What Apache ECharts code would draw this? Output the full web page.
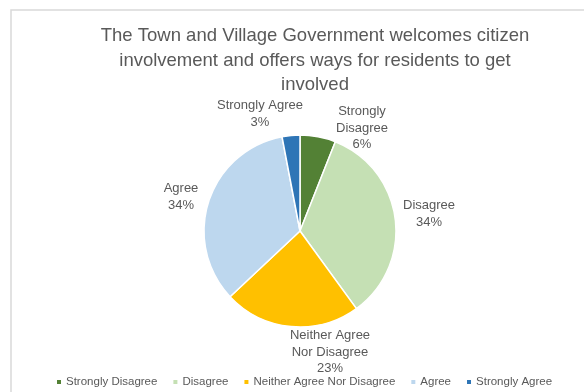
<!DOCTYPE html>
<html>
<head>
<meta charset="utf-8">
<script src="https://cdn.jsdelivr.net/npm/echarts@6/dist/echarts.min.js"></script>
<style>
  html, body { margin: 0; padding: 0; background: #fff; }
  #chart { width: 584px; height: 392px; }
</style>
</head>
<body>
<div id="chart"></div>
<script>
// Survey responses (percent of respondents)
const categories = ['Strongly Disagree', 'Disagree', 'Neither Agree Nor Disagree', 'Agree', 'Strongly Agree'];
const values = [6, 34, 23, 34, 3];
const labelNames = ['Strongly\nDisagree', 'Disagree', 'Neither Agree\nNor Disagree', 'Agree', 'Strongly Agree'];
const colors = ['#538135', '#c5e0b4', '#ffc000', '#bdd7ee', '#2e75b6'];

const titleText = 'The Town and Village Government welcomes citizen\ninvolvement and offers ways for residents to get\ninvolved';

// Label anchor points (centre of each label block)
const labelSpots = [[362, 128], [429, 214], [330, 352], [181, 197], [260, 114]];

const chart = echarts.init(document.getElementById('chart'));
const fontFamily = '"Liberation Sans", Arial, sans-serif';

chart.setOption({
  animation: false,
  color: colors,
  textStyle: { fontFamily: fontFamily },
  graphic: [{
    type: 'rect',
    shape: { x: 11, y: 10, width: 800, height: 600 },
    style: { fill: 'none', stroke: '#d9d9d9', lineWidth: 1.5 },
    silent: true
  }],
  title: {
    text: titleText,
    left: 310,
    top: 19,
    textAlign: 'center',
    textStyle: {
      fontFamily: fontFamily,
      fontSize: 18.5,
      fontWeight: 'normal',
      color: '#595959',
      lineHeight: 24.5
    }
  },
  legend: {
    top: 371,
    left: 50,
    itemWidth: 6,
    itemHeight: 6,
    itemGap: 14,
    icon: 'rect',
    textStyle: { fontFamily: fontFamily, fontSize: 11.5, color: '#595959', padding: [0, 0, 0, -1] },
    data: categories
  },
  series: [{
    type: 'pie',
    center: [300, 231],
    radius: 96,
    startAngle: 90,
    clockwise: true,
    itemStyle: { borderColor: '#ffffff', borderWidth: 1.5 },
    label: {
      show: true,
      position: 'outside',
      fontFamily: fontFamily,
      fontSize: 13,
      lineHeight: 16.5,
      color: '#595959',
      align: 'center',
      formatter: p => labelNames[p.dataIndex] + '\n' + p.value + '%'
    },
    labelLine: { show: false },
    labelLayout: p => ({
      x: labelSpots[p.dataIndex][0],
      y: labelSpots[p.dataIndex][1],
      align: 'center',
      verticalAlign: 'middle'
    }),
    emphasis: { disabled: true },
    data: categories.map((c, i) => ({ name: c, value: values[i] }))
  }]
});
</script>
</body>
</html>
